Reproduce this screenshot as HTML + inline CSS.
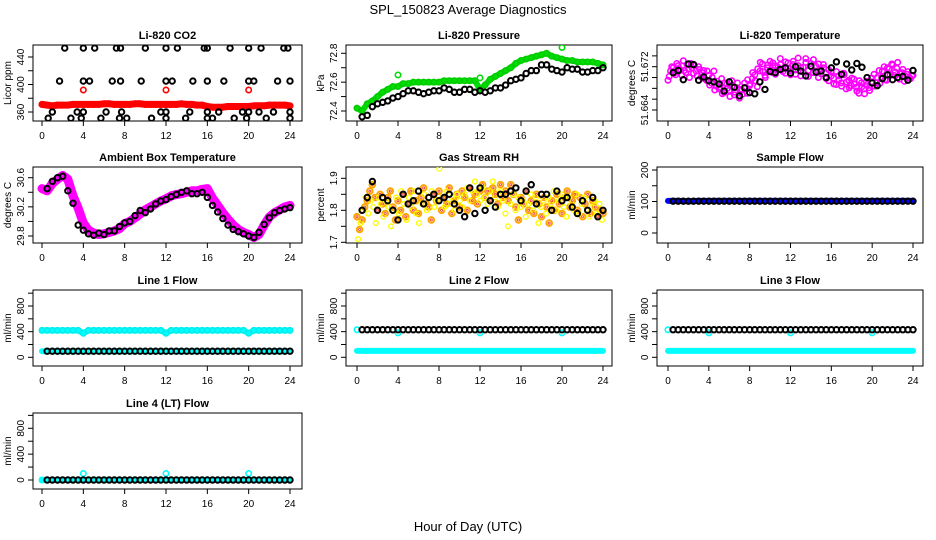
<!DOCTYPE html>
<html><head><meta charset="utf-8"><style>
html,body{margin:0;padding:0;background:#fff}
svg{display:block;font-family:"Liberation Sans",sans-serif}
</style></head><body>
<svg id="c" width="936" height="540" viewBox="0 0 936 540">
<text x="468" y="14" text-anchor="middle" font-size="13">SPL_150823  Average Diagnostics</text>
<text x="468" y="531" text-anchor="middle" font-size="13">Hour of Day (UTC)</text>
</svg>
<script>
// ---- data ----
const hourTicks=[0,4,8,12,16,20,24];
const co2BlackHours=[2.2,4,5.1,7.2,7.6,10,12,13.1,15.7,16,18.2,20,21.2,23.4,23.8,1.7,4,4.6,6.8,7.6,9.6,12,12.6,14.6,16,17.6,20,20.5,22.8,24,1,3.4,4,6.2,7.7,11.5,12,14.3,16,17.1,19.4,20,21,22.4,24,0.6,2.8,3.8,5.7,7.5,8.2,10.6,12,13.9,16,16.5,18.6,19.8,21.7,24];
const co2BlackVals=[453,453,453,453,453,453,453,453,453,453,453,453,453,453,453,405,405,405,405,405,405,405,405,405,405,405,405,405,405,405,360,360,360,360,360,360,360,360,360,360,360,360,360,360,360,351,351,351,351,351,351,351,351,351,351,351,351,351,351,351];
const co2Red=[371,370,369,370,370,370,371,371,371,371,371,371,372,372,371,371,371,371,372,372,371,371,371,371,371,371,371,372,371,371,370,370,368,367,367,367,368,368,368,368,368,369,369,369,370,370,370,370,369];
const co2RedOutHours=[4,12,20];
const co2RedOutVals=[392,392,392];
const presGreen=[72.42,72.40,72.45,72.47,72.50,72.53,72.55,72.57,72.57,72.59,72.59,72.60,72.60,72.60,72.60,72.60,72.60,72.61,72.61,72.61,72.61,72.61,72.61,72.61,72.55,72.58,72.62,72.64,72.66,72.68,72.70,72.73,72.75,72.76,72.77,72.78,72.79,72.80,72.78,72.77,72.76,72.75,72.75,72.74,72.74,72.74,72.74,72.73,72.72];
const presGreenOutHours=[4,12,20];
const presGreenOutVals=[72.65,72.63,72.84];
const presBlack=[72.36,72.37,72.43,72.45,72.46,72.47,72.49,72.50,72.52,72.54,72.54,72.53,72.52,72.53,72.54,72.54,72.56,72.55,72.53,72.53,72.55,72.55,72.53,72.54,72.53,72.54,72.56,72.56,72.58,72.61,72.62,72.63,72.66,72.68,72.68,72.72,72.72,72.69,72.68,72.67,72.70,72.69,72.69,72.67,72.67,72.68,72.68,72.70];
const tempMagentaA=[51.6695,51.6712,51.6718,51.6705,51.6722,51.6714,51.6731,51.6709,51.6716,51.6726,51.6708,51.6712,51.6720,51.6701,51.6713,51.6695,51.6704,51.6690,51.6712,51.6684,51.6679,51.6698,51.6672,51.6688,51.6676,51.6694,51.6668,51.6681,51.6662,51.6677,51.6690,51.6671,51.6685,51.6698,51.6705,51.6683,51.6712,51.6725,51.6704,51.6718,51.6730,51.6709,51.6722,51.6714,51.6735,51.6716,51.6708,51.6727,51.6712,51.6724,51.6706,51.6736,51.6718,51.6710,51.6728,51.6702,51.6720,51.6733,51.6712,51.6725,51.6707,51.6718,51.6698,51.6714,51.6703,51.6688,51.6711,51.6696,51.6684,51.6705,51.6692,51.6681,51.6699,51.6688,51.6675,51.6694,51.6683,51.6670,51.6687,51.6676,51.6692,51.6684,51.6700,51.6689,51.6712,51.6696,51.6718,51.6705,51.6723,51.6710,51.6728,51.6707,51.6715,51.6702,51.6711,51.6698,51.6704];
const tempMagentaB=[51.6702,51.6720,51.6708,51.6726,51.6715,51.6704,51.6713,51.6724,51.6700,51.6718,51.6722,51.6703,51.6715,51.6709,51.6698,51.6712,51.6686,51.6700,51.6677,51.6693,51.6682,51.6670,51.6690,51.6680,51.6665,51.6684,51.6673,51.6690,51.6678,51.6669,51.6682,51.6696,51.6688,51.6709,51.6694,51.6716,51.6728,51.6711,51.6700,51.6723,51.6714,51.6727,51.6706,51.6719,51.6724,51.6711,51.6729,51.6717,51.6705,51.6730,51.6714,51.6722,51.6703,51.6719,51.6735,51.6713,51.6726,51.6709,51.6721,51.6700,51.6715,51.6724,51.6708,51.6694,51.6710,51.6699,51.6687,51.6703,51.6690,51.6708,51.6679,51.6695,51.6685,51.6697,51.6682,51.6671,51.6690,51.6679,51.6693,51.6681,51.6699,51.6706,51.6690,51.6713,51.6701,51.6720,51.6695,51.6716,51.6725,51.6704,51.6717,51.6697,51.6709,51.6693,51.6706,51.6700,51.6703];
const tempBlack=[51.6709,51.6713,51.6696,51.6725,51.6724,51.6695,51.6701,51.6694,51.6692,51.6688,51.6675,51.6692,51.6682,51.6666,51.6681,51.6672,51.6670,51.6692,51.6678,51.6711,51.6709,51.6715,51.6718,51.6708,51.6720,51.6712,51.6703,51.6721,51.6710,51.6712,51.6700,51.6718,51.6729,51.6706,51.6725,51.6714,51.6726,51.6719,51.6700,51.6690,51.6685,51.6698,51.6705,51.6696,51.6700,51.6702,51.6695,51.6713];
const ambMagenta=[30.45,30.42,30.52,30.58,30.63,30.58,30.35,30.18,29.98,29.88,29.84,29.82,29.83,29.85,29.87,29.90,29.97,30.00,30.05,30.10,30.16,30.20,30.24,30.28,30.31,30.35,30.37,30.38,30.40,30.42,30.42,30.44,30.45,30.32,30.22,30.12,30.03,29.95,29.89,29.85,29.82,29.78,29.82,29.95,30.06,30.12,30.16,30.20,30.22];
const ambBlack=[30.45,30.55,30.60,30.62,30.42,30.25,29.95,29.88,29.83,29.81,29.84,29.82,29.87,29.87,29.93,29.98,30.00,30.08,30.15,30.12,30.17,30.24,30.28,30.30,30.34,30.37,30.40,30.42,30.38,30.38,30.40,30.33,30.22,30.13,30.04,29.95,29.89,29.86,29.83,29.80,29.78,29.85,29.96,30.05,30.12,30.15,30.17,30.19];
const rhOrangeA=[1.78,1.74,1.77,1.81,1.83,1.86,1.88,1.84,1.80,1.85,1.82,1.79,1.84,1.86,1.81,1.77,1.83,1.80,1.85,1.78,1.82,1.86,1.80,1.83,1.79,1.84,1.87,1.82,1.81,1.77,1.85,1.83,1.86,1.80,1.84,1.82,1.87,1.79,1.83,1.85,1.81,1.86,1.84,1.80,1.87,1.83,1.85,1.82,1.86,1.88,1.84,1.86,1.83,1.87,1.85,1.82,1.88,1.84,1.86,1.83,1.88,1.85,1.81,1.77,1.84,1.82,1.86,1.80,1.83,1.79,1.85,1.82,1.78,1.84,1.81,1.76,1.83,1.80,1.85,1.82,1.79,1.84,1.86,1.81,1.83,1.85,1.80,1.84,1.78,1.82,1.85,1.79,1.83,1.81,1.78,1.80,1.79];
const rhOrangeB=[1.71,1.76,1.80,1.84,1.79,1.83,1.81,1.76,1.84,1.82,1.78,1.83,1.81,1.75,1.80,1.84,1.79,1.86,1.82,1.77,1.84,1.81,1.86,1.79,1.76,1.82,1.85,1.80,1.84,1.86,1.81,1.83,1.93,1.84,1.81,1.86,1.82,1.84,1.80,1.85,1.83,1.81,1.85,1.87,1.83,1.86,1.89,1.85,1.83,1.87,1.84,1.82,1.86,1.89,1.84,1.81,1.86,1.83,1.79,1.75,1.82,1.85,1.80,1.84,1.81,1.83,1.78,1.82,1.85,1.80,1.84,1.76,1.81,1.83,1.79,1.84,1.82,1.86,1.80,1.83,1.85,1.81,1.78,1.84,1.82,1.80,1.85,1.79,1.82,1.84,1.80,1.78,1.81,1.83,1.79,1.82,1.77];
const rhBlack=[1.80,1.84,1.89,1.80,1.84,1.83,1.80,1.77,1.85,1.82,1.83,1.86,1.82,1.84,1.85,1.83,1.84,1.85,1.82,1.80,1.78,1.87,1.79,1.87,1.80,1.83,1.81,1.85,1.85,1.86,1.87,1.83,1.86,1.88,1.82,1.85,1.85,1.80,1.86,1.83,1.84,1.81,1.79,1.83,1.80,1.84,1.78,1.80];
const sampleBlue=[102,102,101,102,102,102,102,102,102,102,102,102,102,102,102,102,102,102,102,102,102,102,102,102,102];
const sampleBlack=[101,101,101,101,101,101,101,101,101,101,101,101,101,101,101,101,101,101,101,101,101,101,101,101,101,101,101,101,101,101,101,101,101,101,101,101,101,101,101,101,101,101,101,101,101,101,101,101];
const line1Cyan=[420,420,420,420,420,420,420,420,375,420,420,420,420,420,420,420,420,420,420,420,420,420,420,420,375,420,420,420,420,420,420,420,420,420,420,420,420,420,420,420,375,420,420,420,420,420,420,420,420];
const line1Black=[95,95,95,95,95,95,95,95,95,95,95,95,95,95,95,95,95,95,95,95,95,95,95,95,95,95,95,95,95,95,95,95,95,95,95,95,95,95,95,95,95,95,95,95,95,95,95,95];
const line2Cyan=[100,100,100,100,100,100,100,100,100,100,100,100,100,100,100,100,100,100,100,100,100,100,100,100,100];
const line2Black=[430,430,430,430,430,430,430,430,430,430,430,430,430,430,430,430,430,430,430,430,430,430,430,430,430,430,430,430,430,430,430,430,430,430,430,430,430,430,430,430,430,430,430,430,430,430,430,430];
const flowOutHours=[0,4,12,20];
const line2CyanOut=[430,380,380,380];
const line4Cyan=[0,0,0,0,0,0,0,0,0,0,0,0,0,0,0,0,0,0,0,0,0,0,0,0,0];
const line4Black=[0,0,0,0,0,0,0,0,0,0,0,0,0,0,0,0,0,0,0,0,0,0,0,0,0,0,0,0,0,0,0,0,0,0,0,0,0,0,0,0,0,0,0,0,0,0,0,0];
const line4CyanOut=[0,100,100,100];

// ---- layout ----
const svg=document.getElementById('c');
const NS='http://www.w3.org/2000/svg';
const colL=[33,346,657],colR=[302,612,923],hx0=[42,357,668],hx1=[290,603,913];
const rowT=[45,167,290,413],H=76;
function mk(tag,a,parent){const e=document.createElementNS(NS,tag);for(const k in a)e.setAttribute(k,a[k]);(parent||svg).appendChild(e);return e;}

function panel(name,c,r,title,ylab,ref,ticks,labels){
  const g=mk('g',{});
  
  
  const L=colL[c],R=colR[c],T=rowT[r],B=T+H;
  const xs=h=>hx0[c]+(hx1[c]-hx0[c])*h/24;
  const ys=v=>ref[1]+(v-ref[0])*(ref[3]-ref[1])/(ref[2]-ref[0]);
  const box=mk('rect',{x:L,y:T,width:R-L,height:H,fill:'none',stroke:'#000','stroke-width':1},g);
  
  
  const t=mk('text',{x:(L+R)/2,y:T-6,'text-anchor':'middle','font-size':11,'font-weight':'bold'},g);
  t.textContent=title;
  
  
  const yl=mk('text',{x:0,y:0,'text-anchor':'middle','font-size':10,transform:`translate(${L-22},${(T+B)/2}) rotate(-90)`},g);
  yl.textContent=ylab;
  
  
  mk('line',{x1:xs(0),x2:xs(24),y1:B,y2:B,stroke:'#000'},g);
  hourTicks.forEach(h=>{
    mk('line',{x1:xs(h),x2:xs(h),y1:B,y2:B+5,stroke:'#000'},g);
    const tl=mk('text',{x:xs(h),y:B+18,'text-anchor':'middle','font-size':10},g);
    tl.textContent=h;
    
    
  });
  mk('line',{x1:L,x2:L,y1:ys(ticks[0]),y2:ys(ticks[ticks.length-1]),stroke:'#000'},g);
  ticks.forEach(v=>mk('line',{x1:L-5,x2:L,y1:ys(v),y2:ys(v),stroke:'#000'},g));
  labels.forEach(v=>{
    const tl=mk('text',{x:0,y:0,'text-anchor':'middle','font-size':10,transform:`translate(${L-9},${ys(v)}) rotate(-90)`},g);
    tl.textContent=v;
    
    
  });
  const clip='cp'+name;
  const cp=mk('clipPath',{id:clip},g);mk('rect',{x:L,y:T,width:R-L,height:H},cp);
  const dg=mk('g',{'clip-path':`url(#${clip})`},g);
  return {g:dg,xs,ys};
}
function band(p,vals,color,w,nm){
  const n=vals.length;
  const pts=vals.map((v,i)=>p.xs(i*24/(n-1)).toFixed(1)+','+p.ys(v).toFixed(1)).join(' ');
  const pl=mk('polyline',{points:pts,fill:'none',stroke:color,'stroke-width':w,'stroke-linejoin':'round','stroke-linecap':'round'},p.g);
  
  
}
function pts(p,vals,color,nm,h0,h1,r,sw){
  const n=vals.length;h0=h0??0;h1=h1??24;
  if(sw===undefined) sw=(color==='#000')?2:1.6;
  vals.forEach((v,i)=>{
    const ci=mk('circle',{cx:p.xs(h0+(h1-h0)*i/Math.max(1,n-1)),cy:p.ys(v),r:r||2.7,fill:'none',stroke:color,'stroke-width':sw},p.g);
    
    
  });
}
function ptsXY(p,hours,vals,color,nm){
  hours.forEach((h,i)=>{
    const ci=mk('circle',{cx:p.xs(h),cy:p.ys(vals[i]),r:2.7,fill:'none',stroke:color,'stroke-width':color==='#000'?2:1.6},p.g);
    
    
  });
}
const flowTicks=[0,200,400,600,800,1000],flowLabels=[0,400,800];

let p=panel('co2',0,0,'Li-820 CO2','Licor ppm',[360,112,440,57],[360,380,400,420,440],[360,400,440]);
band(p,co2Red,'#f00',7,'co2-red-band');pts(p,co2Red,'#f00','co2-red-point');
ptsXY(p,co2RedOutHours,co2RedOutVals,'#f00','co2-red-outlier');
ptsXY(p,co2BlackHours,co2BlackVals,'#000','co2-black-point');

p=panel('pressure',1,0,'Li-820 Pressure','kPa',[72.4,111,72.8,53.3],[72.4,72.5,72.6,72.7,72.8],[72.4,72.6,72.8]);
band(p,presGreen,'#0d0',6,'pressure-green-band');pts(p,presGreen,'#0c0','pressure-green-point');
ptsXY(p,presGreenOutHours,presGreenOutVals,'#0d0','pressure-green-outlier');
pts(p,presBlack,'#000','pressure-black-point',0.5,24);

p=panel('temperature',2,0,'Li-820 Temperature','degrees C',[51.664,110,51.672,66.7],[51.664,51.666,51.668,51.670,51.672,51.674],[51.664,51.672]);
pts(p,tempMagentaA,'#f0f','temp-magenta-point');pts(p,tempMagentaB,'#f0f','temp-magenta-point',0.12,23.9);
pts(p,tempBlack,'#000','temp-black-point',0.5,24);

p=panel('ambient',0,1,'Ambient Box Temperature','degrees C',[29.8,236,30.6,177.7],[29.8,30.0,30.2,30.4,30.6],[29.8,30.2,30.6]);
band(p,ambMagenta,'#f0f',9,'ambient-magenta-band');pts(p,ambMagenta,'#f0f','ambient-magenta-point');
pts(p,ambBlack,'#000','ambient-black-point',0.5,24);

p=panel('rh',1,1,'Gas Stream RH','percent',[1.70,242.3,1.90,178.3],[1.70,1.75,1.80,1.85,1.90],[1.70,1.80,1.90]);
pts(p,rhOrangeA,'#ffa500','rh-orange-point',0,24,2.8,2);pts(p,rhOrangeB,'#ff0','rh-yellow-point',0.1,23.9,2.4,1.4);
pts(p,rhOrangeA,'#e33','rh-red-point',0,24,1,0.8);
pts(p,rhBlack,'#000','rh-black-point',0.5,24);

p=panel('sample-flow',2,1,'Sample Flow','ml/min',[0,233,200,170],[0,50,100,150,200],[0,100,200]);
band(p,sampleBlue,'#00f',6,'sample-blue-band');pts(p,sampleBlack,'#000','sample-black-point',0.5,24);

p=panel('line1',0,2,'Line 1 Flow','ml/min',[0,357.3,800,306],flowTicks,flowLabels);
band(p,line1Cyan,'#0ff',6,'line1-cyan-band');pts(p,line1Cyan,'#0ee','line1-cyan-point');
band(p,line1Black,'#0ff',6,'line1-cyan-low-band');pts(p,line1Black,'#000','line1-black-point',0.5,24);

p=panel('line2',1,2,'Line 2 Flow','ml/min',[0,357.3,800,306],flowTicks,flowLabels);
band(p,line2Cyan,'#0ff',6,'line2-cyan-band');ptsXY(p,flowOutHours,line2CyanOut,'#0ff','line2-cyan-outlier');
pts(p,line2Black,'#000','line2-black-point',0.5,24);

p=panel('line3',2,2,'Line 3 Flow','ml/min',[0,357.3,800,306],flowTicks,flowLabels);
band(p,line2Cyan,'#0ff',6,'line3-cyan-band');ptsXY(p,flowOutHours,line2CyanOut,'#0ff','line3-cyan-outlier');
pts(p,line2Black,'#000','line3-black-point',0.5,24);

p=panel('line4',0,3,'Line 4 (LT) Flow','ml/min',[0,480,800,428.3],flowTicks,flowLabels);
band(p,line4Cyan,'#0ff',6,'line4-cyan-band');ptsXY(p,flowOutHours,line4CyanOut,'#0ff','line4-cyan-outlier');
pts(p,line4Black,'#000','line4-black-point',0.5,24);
</script>
</body></html>
